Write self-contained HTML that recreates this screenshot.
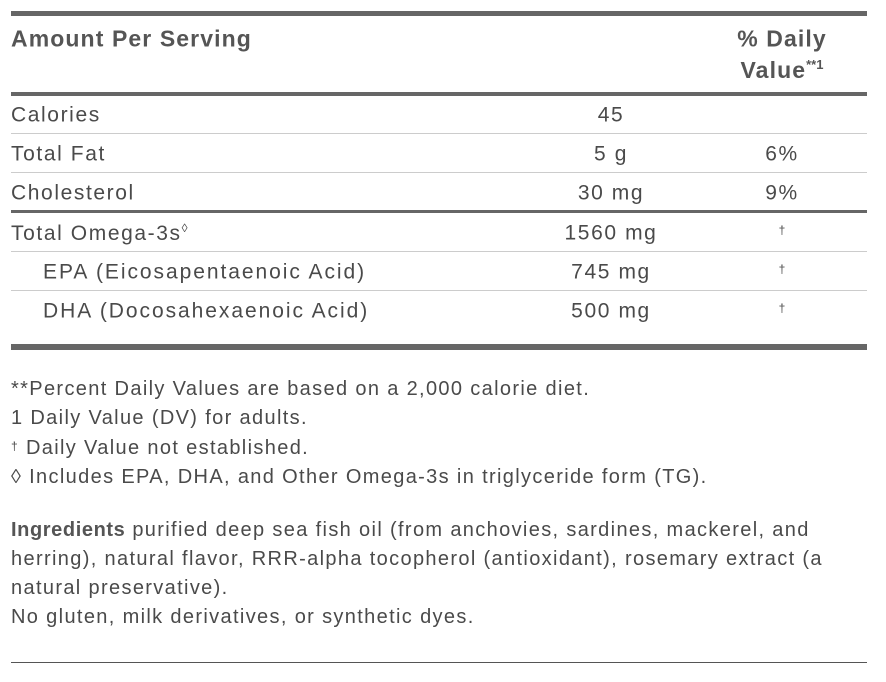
<!DOCTYPE html>
<html><head><meta charset="utf-8"><style>
body{margin:0;width:886px;height:682px;background:#fff;font-family:"Liberation Sans",sans-serif;color:#4a4a4a;position:relative;overflow:hidden}
.h{position:absolute;left:11px;right:19px;background:#666}
.t{position:absolute;white-space:nowrap;line-height:1;transform:translateY(-50%)}
.r{font-size:21px;letter-spacing:1.6px}
.ri{font-size:21px;letter-spacing:1.95px}
.c{width:200px;text-align:center}
.f{font-size:20px;letter-spacing:1.35px;left:11px}
.hd{font-size:23px;font-weight:bold;color:#555;letter-spacing:1.1px}
b{font-weight:bold;color:#555;letter-spacing:0.6px}
</style></head><body>
<div class="h" style="top:11px;height:5px"></div>
<div class="t hd" style="left:11px;top:39px">Amount Per Serving</div>
<div class="t hd" style="left:682px;top:39px;width:200px;text-align:center">% Daily</div>
<div class="t hd" style="left:682px;top:70px;width:200px;text-align:center">Value<sup style="font-size:13px;letter-spacing:0">**1</sup></div>
<div class="h" style="top:92px;height:4px"></div>

<div class="t r" style="left:11px;top:115px">Calories</div>
<div class="t r c" style="left:511px;top:115px">45</div>
<div class="h" style="top:133px;height:1px;background:#ccc"></div>

<div class="t r" style="left:11px;top:154px">Total Fat</div>
<div class="t r c" style="left:511px;top:154px">5 g</div>
<div class="t r c" style="left:682px;top:154px">6%</div>
<div class="h" style="top:172px;height:1px;background:#ccc"></div>

<div class="t r" style="left:11px;top:193px">Cholesterol</div>
<div class="t r c" style="left:511px;top:193px">30 mg</div>
<div class="t r c" style="left:682px;top:193px">9%</div>
<div class="h" style="top:210px;height:3px"></div>

<div class="t r" style="left:11px;top:233px">Total Omega-3s<sup style="font-size:12px">◊</sup></div>
<div class="t r c" style="left:511px;top:233px">1560 mg</div>
<div class="t c" style="left:682px;top:230px;font-size:12px">†</div>
<div class="h" style="top:251px;height:1px;background:#ccc"></div>

<div class="t ri" style="left:43px;top:272px">EPA (Eicosapentaenoic Acid)</div>
<div class="t r c" style="left:511px;top:272px">745 mg</div>
<div class="t c" style="left:682px;top:269px;font-size:12px">†</div>
<div class="h" style="top:290px;height:1px;background:#ccc"></div>

<div class="t ri" style="left:43px;top:311px">DHA (Docosahexaenoic Acid)</div>
<div class="t r c" style="left:511px;top:311px">500 mg</div>
<div class="t c" style="left:682px;top:308px;font-size:12px">†</div>
<div class="h" style="top:344px;height:6px"></div>

<div class="t f" style="top:389px">**Percent Daily Values are based on a 2,000 calorie diet.</div>
<div class="t f" style="top:418px">1 Daily Value (DV) for adults.</div>
<div class="t f" style="top:448px"><span style="font-size:12px;vertical-align:4px">†</span> Daily Value not established.</div>
<div class="t f" style="top:477px">◊ Includes EPA, DHA, and Other Omega-3s in triglyceride form (TG).</div>

<div class="t f" style="top:530px"><b>Ingredients</b> purified deep sea fish oil (from anchovies, sardines, mackerel, and</div>
<div class="t f" style="top:559px">herring), natural flavor, RRR-alpha tocopherol (antioxidant), rosemary extract (a</div>
<div class="t f" style="top:588px">natural preservative).</div>
<div class="t f" style="top:617px">No gluten, milk derivatives, or synthetic dyes.</div>
<div class="h" style="top:662px;height:1px;background:#555"></div>
</body></html>
